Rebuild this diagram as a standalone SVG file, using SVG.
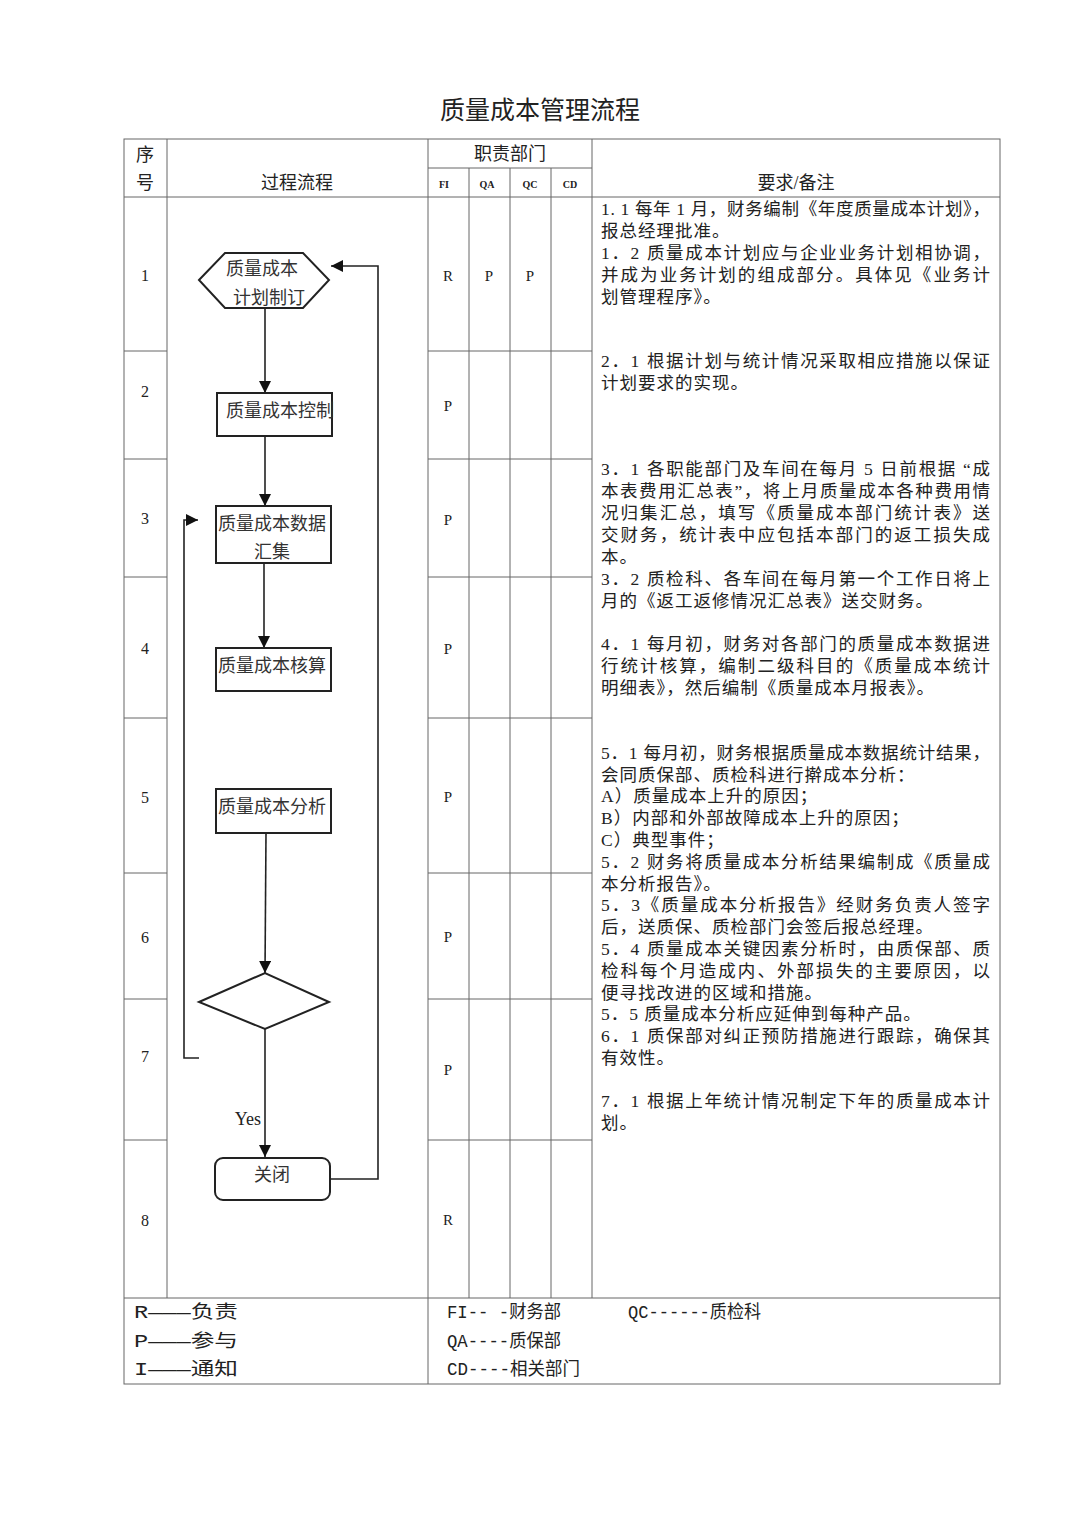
<svg xmlns="http://www.w3.org/2000/svg" width="1080" height="1527" viewBox="0 0 1080 1527">
<style>
.t{font-family:"Liberation Serif","Noto Sans CJK SC",serif;fill:#222}
.grid{stroke:#666;stroke-width:1;fill:none}
.node{fill:#fff;stroke:#222;stroke-width:2}
.conn{stroke:#222;stroke-width:1.6;fill:none}
.note{font-family:"Liberation Serif","Noto Sans CJK SC",serif;font-size:17.5px;fill:#222;letter-spacing:1px}
.full{letter-spacing:0}
.lg{font-family:"Liberation Mono","Noto Sans CJK SC",monospace;font-size:18px;fill:#222}
.hd{font-family:"Liberation Serif","Noto Sans CJK SC",serif;font-size:18px;fill:#222;text-anchor:middle}
.ab{font-family:"Liberation Serif",serif;font-size:10px;font-weight:bold;fill:#222;text-anchor:middle}
.rp{font-family:"Liberation Serif",serif;font-size:15px;fill:#222;text-anchor:middle}
.num{font-family:"Liberation Serif",serif;font-size:16px;fill:#222;text-anchor:middle}
.nt{font-family:"Liberation Serif","Noto Sans CJK SC",serif;font-size:18px;fill:#333;text-anchor:middle}
</style>
<defs>
<marker id="arr" markerUnits="userSpaceOnUse" markerWidth="12" markerHeight="12" refX="12" refY="6" orient="auto">
<path d="M0,0 L12,6 L0,12 Z" fill="#111"/>
</marker>
</defs>
<rect width="1080" height="1527" fill="#fff"/>

<text class="t" x="540" y="119" font-size="25" text-anchor="middle">质量成本管理流程</text>

<g id="table">
<rect class="grid" x="124" y="139" width="876" height="1245"/>
<line class="grid" x1="167" y1="139" x2="167" y2="1298"/>
<line class="grid" x1="428" y1="139" x2="428" y2="1384"/>
<line class="grid" x1="592" y1="139" x2="592" y2="1298"/>
<line class="grid" x1="469" y1="168" x2="469" y2="1298"/>
<line class="grid" x1="510" y1="168" x2="510" y2="1298"/>
<line class="grid" x1="551" y1="168" x2="551" y2="1298"/>
<line class="grid" x1="428" y1="168" x2="592" y2="168"/>
<line class="grid" x1="124" y1="197" x2="1000" y2="197"/>
<line class="grid" x1="124" y1="1298" x2="1000" y2="1298"/>
<g>
<line class="grid" x1="124" y1="351" x2="167" y2="351"/><line class="grid" x1="428" y1="351" x2="592" y2="351"/>
<line class="grid" x1="124" y1="459" x2="167" y2="459"/><line class="grid" x1="428" y1="459" x2="592" y2="459"/>
<line class="grid" x1="124" y1="577" x2="167" y2="577"/><line class="grid" x1="428" y1="577" x2="592" y2="577"/>
<line class="grid" x1="124" y1="718" x2="167" y2="718"/><line class="grid" x1="428" y1="718" x2="592" y2="718"/>
<line class="grid" x1="124" y1="873" x2="167" y2="873"/><line class="grid" x1="428" y1="873" x2="592" y2="873"/>
<line class="grid" x1="124" y1="999" x2="167" y2="999"/><line class="grid" x1="428" y1="999" x2="592" y2="999"/>
<line class="grid" x1="124" y1="1140" x2="167" y2="1140"/><line class="grid" x1="428" y1="1140" x2="592" y2="1140"/>
</g>
<text class="hd" x="145" y="161">序</text>
<text class="hd" x="145" y="189">号</text>
<text class="hd" x="297" y="189">过程流程</text>
<text class="hd" x="510" y="160">职责部门</text>
<text class="ab" x="444" y="188">FI</text>
<text class="ab" x="487" y="188">QA</text>
<text class="ab" x="530" y="188">QC</text>
<text class="ab" x="570" y="188">CD</text>
<text class="hd" x="796" y="189">要求/备注</text>

<text class="num" x="145" y="281">1</text>
<text class="num" x="145" y="397">2</text>
<text class="num" x="145" y="524">3</text>
<text class="num" x="145" y="654">4</text>
<text class="num" x="145" y="803">5</text>
<text class="num" x="145" y="943">6</text>
<text class="num" x="145" y="1062">7</text>
<text class="num" x="145" y="1226">8</text>

<text class="rp" x="448" y="281">R</text>
<text class="rp" x="489" y="281">P</text>
<text class="rp" x="530" y="281">P</text>
<text class="rp" x="448" y="411">P</text>
<text class="rp" x="448" y="525">P</text>
<text class="rp" x="448" y="654">P</text>
<text class="rp" x="448" y="802">P</text>
<text class="rp" x="448" y="942">P</text>
<text class="rp" x="448" y="1075">P</text>
<text class="rp" x="448" y="1225">R</text>
</g>

<g id="notes">
<text class="note full" x="601" y="215" textLength="389" lengthAdjust="spacing">1. 1 每年 1 月，财务编制《年度质量成本计划》，</text>
<text class="note" x="601" y="237">报总经理批准。</text>
<text class="note full" x="601" y="259" textLength="389" lengthAdjust="spacing">1．2 质量成本计划应与企业业务计划相协调，</text>
<text class="note full" x="601" y="281" textLength="389" lengthAdjust="spacing">并成为业务计划的组成部分。具体见《业务计</text>
<text class="note" x="601" y="303">划管理程序》。</text>

<text class="note full" x="601" y="367" textLength="389" lengthAdjust="spacing">2．1 根据计划与统计情况采取相应措施以保证</text>
<text class="note" x="601" y="389">计划要求的实现。</text>

<text class="note full" x="601" y="475" textLength="389" lengthAdjust="spacing">3．1 各职能部门及车间在每月 5 日前根据 “成</text>
<text class="note full" x="601" y="497" textLength="389" lengthAdjust="spacing">本表费用汇总表”，将上月质量成本各种费用情</text>
<text class="note full" x="601" y="519" textLength="389" lengthAdjust="spacing">况归集汇总，填写《质量成本部门统计表》送</text>
<text class="note full" x="601" y="541" textLength="389" lengthAdjust="spacing">交财务，统计表中应包括本部门的返工损失成</text>
<text class="note" x="601" y="563">本。</text>
<text class="note full" x="601" y="585" textLength="389" lengthAdjust="spacing">3．2 质检科、各车间在每月第一个工作日将上</text>
<text class="note" x="601" y="607">月的《返工返修情况汇总表》送交财务。</text>

<text class="note full" x="601" y="650" textLength="389" lengthAdjust="spacing">4．1 每月初，财务对各部门的质量成本数据进</text>
<text class="note full" x="601" y="672" textLength="389" lengthAdjust="spacing">行统计核算，编制二级科目的《质量成本统计</text>
<text class="note" x="601" y="694">明细表》，然后编制《质量成本月报表》。</text>

<text class="note full" x="601" y="759" textLength="389" lengthAdjust="spacing">5．1 每月初，财务根据质量成本数据统计结果，</text>
<text class="note" x="601" y="781">会同质保部、质检科进行擀成本分析：</text>
<text class="note" x="601" y="802">A）质量成本上升的原因；</text>
<text class="note" x="601" y="824">B）内部和外部故障成本上升的原因；</text>
<text class="note" x="601" y="846">C）典型事件；</text>
<text class="note full" x="601" y="868" textLength="389" lengthAdjust="spacing">5．2 财务将质量成本分析结果编制成《质量成</text>
<text class="note" x="601" y="890">本分析报告》。</text>
<text class="note full" x="601" y="911" textLength="389" lengthAdjust="spacing">5．3《质量成本分析报告》经财务负责人签字</text>
<text class="note" x="601" y="933">后，送质保、质检部门会签后报总经理。</text>
<text class="note full" x="601" y="955" textLength="389" lengthAdjust="spacing">5．4 质量成本关键因素分析时，由质保部、质</text>
<text class="note full" x="601" y="977" textLength="389" lengthAdjust="spacing">检科每个月造成内、外部损失的主要原因，以</text>
<text class="note" x="601" y="999">便寻找改进的区域和措施。</text>
<text class="note" x="601" y="1020">5．5 质量成本分析应延伸到每种产品。</text>
<text class="note full" x="601" y="1042" textLength="389" lengthAdjust="spacing">6．1 质保部对纠正预防措施进行跟踪，确保其</text>
<text class="note" x="601" y="1064">有效性。</text>

<text class="note full" x="601" y="1107" textLength="389" lengthAdjust="spacing">7．1 根据上年统计情况制定下年的质量成本计</text>
<text class="note" x="601" y="1129">划。</text>
</g>

<g id="legend">
<text class="lg" x="134" y="1318" textLength="104" lengthAdjust="spacingAndGlyphs">R———负责</text>
<text class="lg" x="134" y="1347" textLength="104" lengthAdjust="spacingAndGlyphs">P———参与</text>
<text class="lg" x="134" y="1375" textLength="104" lengthAdjust="spacingAndGlyphs">I———通知</text>
<text class="lg" x="447" y="1318" textLength="114" lengthAdjust="spacingAndGlyphs">FI-- -财务部</text>
<text class="lg" x="447" y="1347" textLength="114" lengthAdjust="spacingAndGlyphs">QA----质保部</text>
<text class="lg" x="447" y="1375" textLength="133" lengthAdjust="spacingAndGlyphs">CD----相关部门</text>
<text class="lg" x="628" y="1318" textLength="133" lengthAdjust="spacingAndGlyphs">QC------质检科</text>
</g>

<g id="connectors">
<line class="conn" x1="265" y1="308" x2="265" y2="393" marker-end="url(#arr)"/>
<line class="conn" x1="265" y1="436" x2="265" y2="506" marker-end="url(#arr)"/>
<line class="conn" x1="264" y1="563" x2="264" y2="648" marker-end="url(#arr)"/>
<line class="conn" x1="266" y1="833" x2="265" y2="973" marker-end="url(#arr)"/>
<line class="conn" x1="265" y1="1029" x2="265" y2="1157" marker-end="url(#arr)"/>
<polyline class="conn" points="330,1179 378,1179 378,266 331,266" marker-end="url(#arr)"/>
<polyline class="conn" points="199,1058 184,1058 184,520 198,520" marker-end="url(#arr)"/>
<text x="261" y="1125" font-family="Liberation Serif, serif" font-size="18" fill="#222" text-anchor="end">Yes</text>
</g>

<g id="n1">
<polygon class="node" stroke-width="1.6" points="199,280 225,253 303,253 329,280 303,308 225,308"/>
<text class="nt" x="262" y="275">质量成本</text>
<text class="nt" x="269" y="304">计划制订</text>
</g>
<g id="n2">
<rect class="node" x="217" y="393" width="115" height="43"/>
<text class="nt" x="280" y="417">质量成本控制</text>
</g>
<g id="n3">
<rect class="node" x="216" y="506" width="115" height="57"/>
<text class="nt" x="272" y="530">质量成本数据</text>
<text class="nt" x="272" y="558">汇集</text>
</g>
<g id="n4">
<rect class="node" x="216" y="648" width="115" height="43"/>
<text class="nt" x="272" y="672">质量成本核算</text>
</g>
<g id="n5">
<rect class="node" x="216" y="789" width="115" height="44"/>
<text class="nt" x="272" y="813">质量成本分析</text>
</g>
<g id="n6">
<polygon class="node" stroke-width="1.6" points="199,1002 265,973 329,1002 265,1029"/>
</g>
<g id="n7">
<rect class="node" x="215" y="1158" width="115" height="42" rx="8" ry="8"/>
<text class="nt" x="272" y="1181">关闭</text>
</g>
</svg>
